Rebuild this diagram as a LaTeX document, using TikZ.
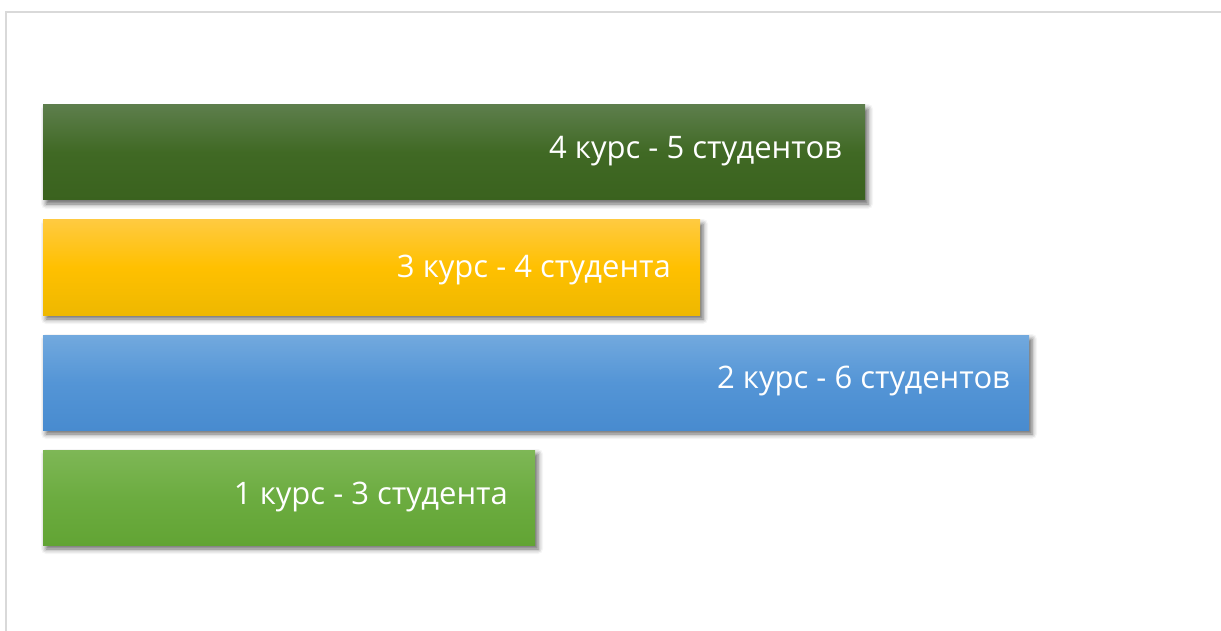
\documentclass[tikz,border=0pt]{standalone}
\usepackage{fontspec}
\setmainfont{Open Sans}
\usetikzlibrary{positioning,shadows.blur}

\definecolor{frameGray}{RGB}{217,217,217}
\definecolor{darkTop}{RGB}{93,126,76}
\definecolor{darkMid}{RGB}{64,105,36}
\definecolor{darkBot}{RGB}{58,98,30}
\definecolor{goldTop}{RGB}{255,202,64}
\definecolor{goldMid}{RGB}{255,192,0}
\definecolor{goldBot}{RGB}{238,184,0}
\definecolor{blueTop}{RGB}{114,169,222}
\definecolor{blueMid}{RGB}{84,149,214}
\definecolor{blueBot}{RGB}{72,139,207}
\definecolor{greenTop}{RGB}{126,183,86}
\definecolor{greenMid}{RGB}{108,172,64}
\definecolor{greenBot}{RGB}{98,164,52}

\begin{document}
\begin{tikzpicture}[x=1pt,y=-1pt,
  bar/.style={anchor=north west, minimum height=95pt, inner sep=0pt, outer sep=0pt,
              blur shadow={shadow xshift=3pt, shadow yshift=-4pt,
                           shadow blur radius=5pt, shadow opacity=60}},
  barlabel/.style={text=white, font=\fontsize{31}{36}\selectfont, anchor=base east, inner sep=0pt}]
  \useasboundingbox (0,0) rectangle (1221,631);
  % frame
  \draw[frameGray, line width=2.5pt] (6,631) -- (6,12) -- (1221,12);
  % bars
  \node[bar, minimum width=822pt, top color=darkTop, bottom color=darkBot, middle color=darkMid]
    (kurs4) at (43,105) {};
  \node[bar, minimum width=657pt, top color=goldTop, bottom color=goldBot, middle color=goldMid]
    (kurs3) at (43,220) {};
  \node[bar, minimum width=986pt, top color=blueTop, bottom color=blueBot, middle color=blueMid]
    (kurs2) at (43,335) {};
  \node[bar, minimum width=492pt, top color=greenTop, bottom color=greenBot, middle color=greenMid]
    (kurs1) at (43,450) {};
  % labels
  \node[barlabel] (lab4) at ([xshift=-23pt, yshift=-6.5pt]kurs4.east) {4 курс - 5 студентов};
  \node[barlabel] (lab3) at ([xshift=-29pt, yshift=-10pt]kurs3.east) {3 курс - 4 студента};
  \node[barlabel] (lab2) at ([xshift=-19pt, yshift=-6pt]kurs2.east) {2 курс - 6 студентов};
  \node[barlabel] (lab1) at ([xshift=-27pt, yshift=-6.5pt]kurs1.east) {1 курс - 3 студента};
\end{tikzpicture}
\end{document}
